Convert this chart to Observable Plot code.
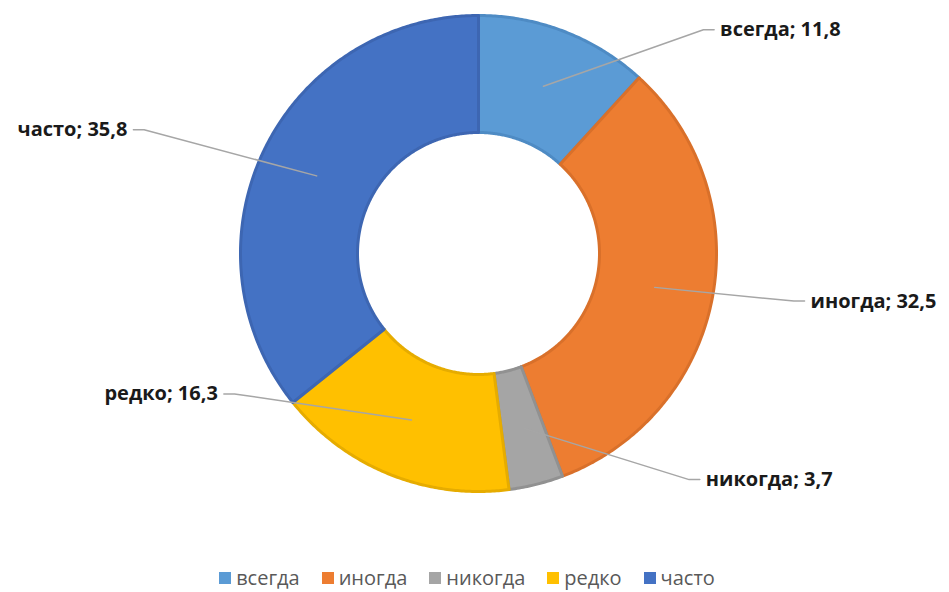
<!DOCTYPE html>
<html><head><meta charset="utf-8">
<script src="https://cdn.jsdelivr.net/npm/d3@7"></script>
<script src="https://cdn.jsdelivr.net/npm/@observablehq/plot@0.6"></script>
<style>
html,body{margin:0;background:#fff;font-family:"Open Sans",sans-serif;}
#chart svg{display:block;}
#legend{display:flex;justify-content:center;align-items:center;box-sizing:border-box;height:36px;padding:8px 15px 0 0;line-height:28px;font-size:20px;color:#595959;font-family:"Open Sans",sans-serif;}
#legend .item{display:flex;align-items:center;margin:0 11px;}
#legend .sw{width:12px;height:12px;margin-right:5px;}
</style></head>
<body><div id="chart"></div><div id="legend"></div>
<script>
// data
const categories = ["всегда", "иногда", "никогда", "редко", "часто"];
const values = [11.8, 32.5, 3.7, 16.3, 35.8];
const colors = ["#5B9BD5", "#ED7D31", "#A5A5A5", "#FFC000", "#4472C4"];
const edgeColors = ["#4E8BC4", "#D9702A", "#919191", "#E6AC00", "#3D66B2"];
// layout: end of leader line, in units of outer radius relative to centre (y down)
const labelEnds = [[0.99, -0.94], [1.37, 0.2], [0.93, 0.95], [-1.07, 0.59], [-1.45, -0.52]];

const W = 949, H = 556, cx = 478, cy = 253, R = 238, inner = 121 / 238;

const pie = d3.pie().sort(null).value(d => d)(values);
const ringRows = [];
pie.forEach((p, i) => {
  const n = Math.max(4, Math.ceil((p.endAngle - p.startAngle) / (Math.PI / 360)));
  for (let k = 0; k <= n; k++) {
    const a = p.startAngle + (p.endAngle - p.startAngle) * k / n;
    ringRows.push({cat: categories[i], x: Math.sin(a), y: -Math.cos(a), fill: colors[i], stroke: edgeColors[i]});
  }
  for (let k = n; k >= 0; k--) {
    const a = p.startAngle + (p.endAngle - p.startAngle) * k / n;
    ringRows.push({cat: categories[i], x: inner * Math.sin(a), y: -inner * Math.cos(a), fill: colors[i], stroke: edgeColors[i]});
  }
});

const fmt = v => String(v).replace(".", ",");
const leaderRows = [];
const labelRows = [];
pie.forEach((p, i) => {
  const mid = (p.startAngle + p.endAngle) / 2;
  const rm = (1 + inner) / 2;
  const [ex, ey] = labelEnds[i];
  const side = ex >= 0 ? 1 : -1;
  leaderRows.push({cat: categories[i], x: rm * Math.sin(mid), y: -rm * Math.cos(mid)});
  leaderRows.push({cat: categories[i], x: ex - side * 0.045, y: ey});
  leaderRows.push({cat: categories[i], x: ex, y: ey});
  labelRows.push({x: ex, y: ey, side, text: `${categories[i]}; ${fmt(values[i])}`});
});

const chart = Plot.plot({
  width: W, height: H,
  margin: 0,
  x: {domain: [-1, 1], range: [cx - R, cx + R], axis: null},
  y: {domain: [-1, 1], range: [cy - R, cy + R], axis: null},
  style: {fontFamily: "'Open Sans', sans-serif", background: "#fff", overflow: "visible"},
  marks: [
    Plot.line(ringRows, {x: "x", y: "y", z: "cat", fill: "fill", stroke: "stroke", strokeWidth: 3, strokeLinejoin: "round", curve: "linear-closed"}),
    Plot.line(leaderRows, {x: "x", y: "y", z: "cat", stroke: "#a6a6a6", strokeWidth: 1.5}),
    Plot.text(labelRows.filter(d => d.side > 0), {x: "x", y: "y", text: "text", textAnchor: "start", dx: 6, fontSize: 20, fontWeight: "bold", fill: "#1a1a1a"}),
    Plot.text(labelRows.filter(d => d.side < 0), {x: "x", y: "y", text: "text", textAnchor: "end", dx: -6, fontSize: 20, fontWeight: "bold", fill: "#1a1a1a"})
  ]
});
document.getElementById("chart").appendChild(chart);

const legend = document.getElementById("legend");
categories.forEach((c, i) => {
  const item = document.createElement("div");
  item.className = "item";
  const sw = document.createElement("div");
  sw.className = "sw";
  sw.style.background = colors[i];
  const t = document.createElement("span");
  t.textContent = c;
  item.appendChild(sw); item.appendChild(t);
  legend.appendChild(item);
});
</script></body></html>
